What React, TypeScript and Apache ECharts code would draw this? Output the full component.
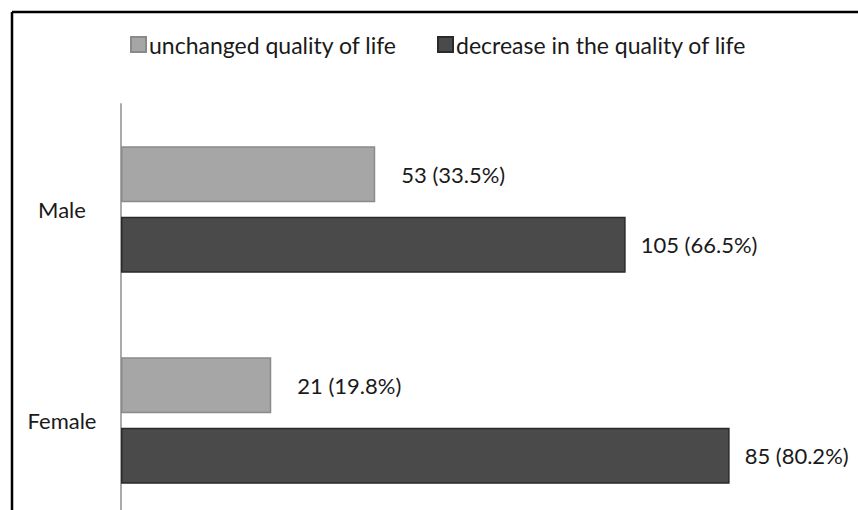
import React, { useEffect, useRef } from "react";
import * as echarts from "echarts";

const categories = ["Male", "Female"];
const unchangedCounts = [53, 21];
const unchangedPct = [33.5, 19.8];
const decreaseCounts = [105, 85];
const decreasePct = [66.5, 80.2];
const seriesNames = ["unchanged quality of life", "decrease in the quality of life"];

const FONT = "Lato, 'Open Sans', sans-serif";

export default function App() {
  const ref = useRef<HTMLDivElement>(null);
  useEffect(() => {
    document.body.style.margin = "0";
    const chart = echarts.init(ref.current!, null, { renderer: "svg" });
    const labelStyle = { fontFamily: FONT, fontSize: 22, color: "#1a1a1a" };
    chart.setOption({
      animation: false,
      backgroundColor: "#fff",
      textStyle: { fontFamily: FONT },
      legend: {
        left: 125,
        top: 28,
        itemWidth: 15,
        itemHeight: 15,
        itemGap: 40,
        icon: "rect",
        textStyle: { ...labelStyle, fontSize: 23, padding: [0, 0, 0, -2] },
        data: seriesNames,
      },
      graphic: [
        { type: "line", shape: { x1: 12, y1: 12, x2: 858, y2: 12 }, style: { stroke: "#000", lineWidth: 2.5 } },
        { type: "line", shape: { x1: 12, y1: 12, x2: 12, y2: 540 }, style: { stroke: "#000", lineWidth: 2.5 } },
      ],
      grid: { left: 121, top: 104, width: 683, height: 422, containLabel: false },
      xAxis: { type: "value", min: 0, max: 90, show: false },
      yAxis: {
        type: "category",
        inverse: true,
        data: categories,
        axisTick: { show: false },
        axisLine: { lineStyle: { color: "#aaaaaa", width: 2 } },
        axisLabel: { ...labelStyle, align: "center", margin: 59 },
      },
      series: [
        {
          name: seriesNames[0],
          type: "bar",
          barWidth: 56,
          barGap: "26%",
          data: unchangedPct,
          itemStyle: { color: "#a6a6a6", borderColor: "#8a8a8a", borderWidth: 1.5 },
          label: {
            show: true,
            position: "right",
            distance: 26,
            ...labelStyle,
            formatter: (p: any) => `${unchangedCounts[p.dataIndex]} (${unchangedPct[p.dataIndex]}%)`,
          },
        },
        {
          name: seriesNames[1],
          type: "bar",
          barWidth: 56,
          data: decreasePct,
          itemStyle: { color: "#4a4a4a", borderColor: "#2a2a2a", borderWidth: 1.5 },
          label: {
            show: true,
            position: "right",
            distance: 15,
            ...labelStyle,
            formatter: (p: any) => `${decreaseCounts[p.dataIndex]} (${decreasePct[p.dataIndex]}%)`,
          },
        },
      ],
    });
    return () => chart.dispose();
  }, []);
  return (
    <div style={{ width: 858, height: 510, overflow: "hidden" }}>
      <div ref={ref} style={{ width: 858, height: 540 }} />
    </div>
  );
}
